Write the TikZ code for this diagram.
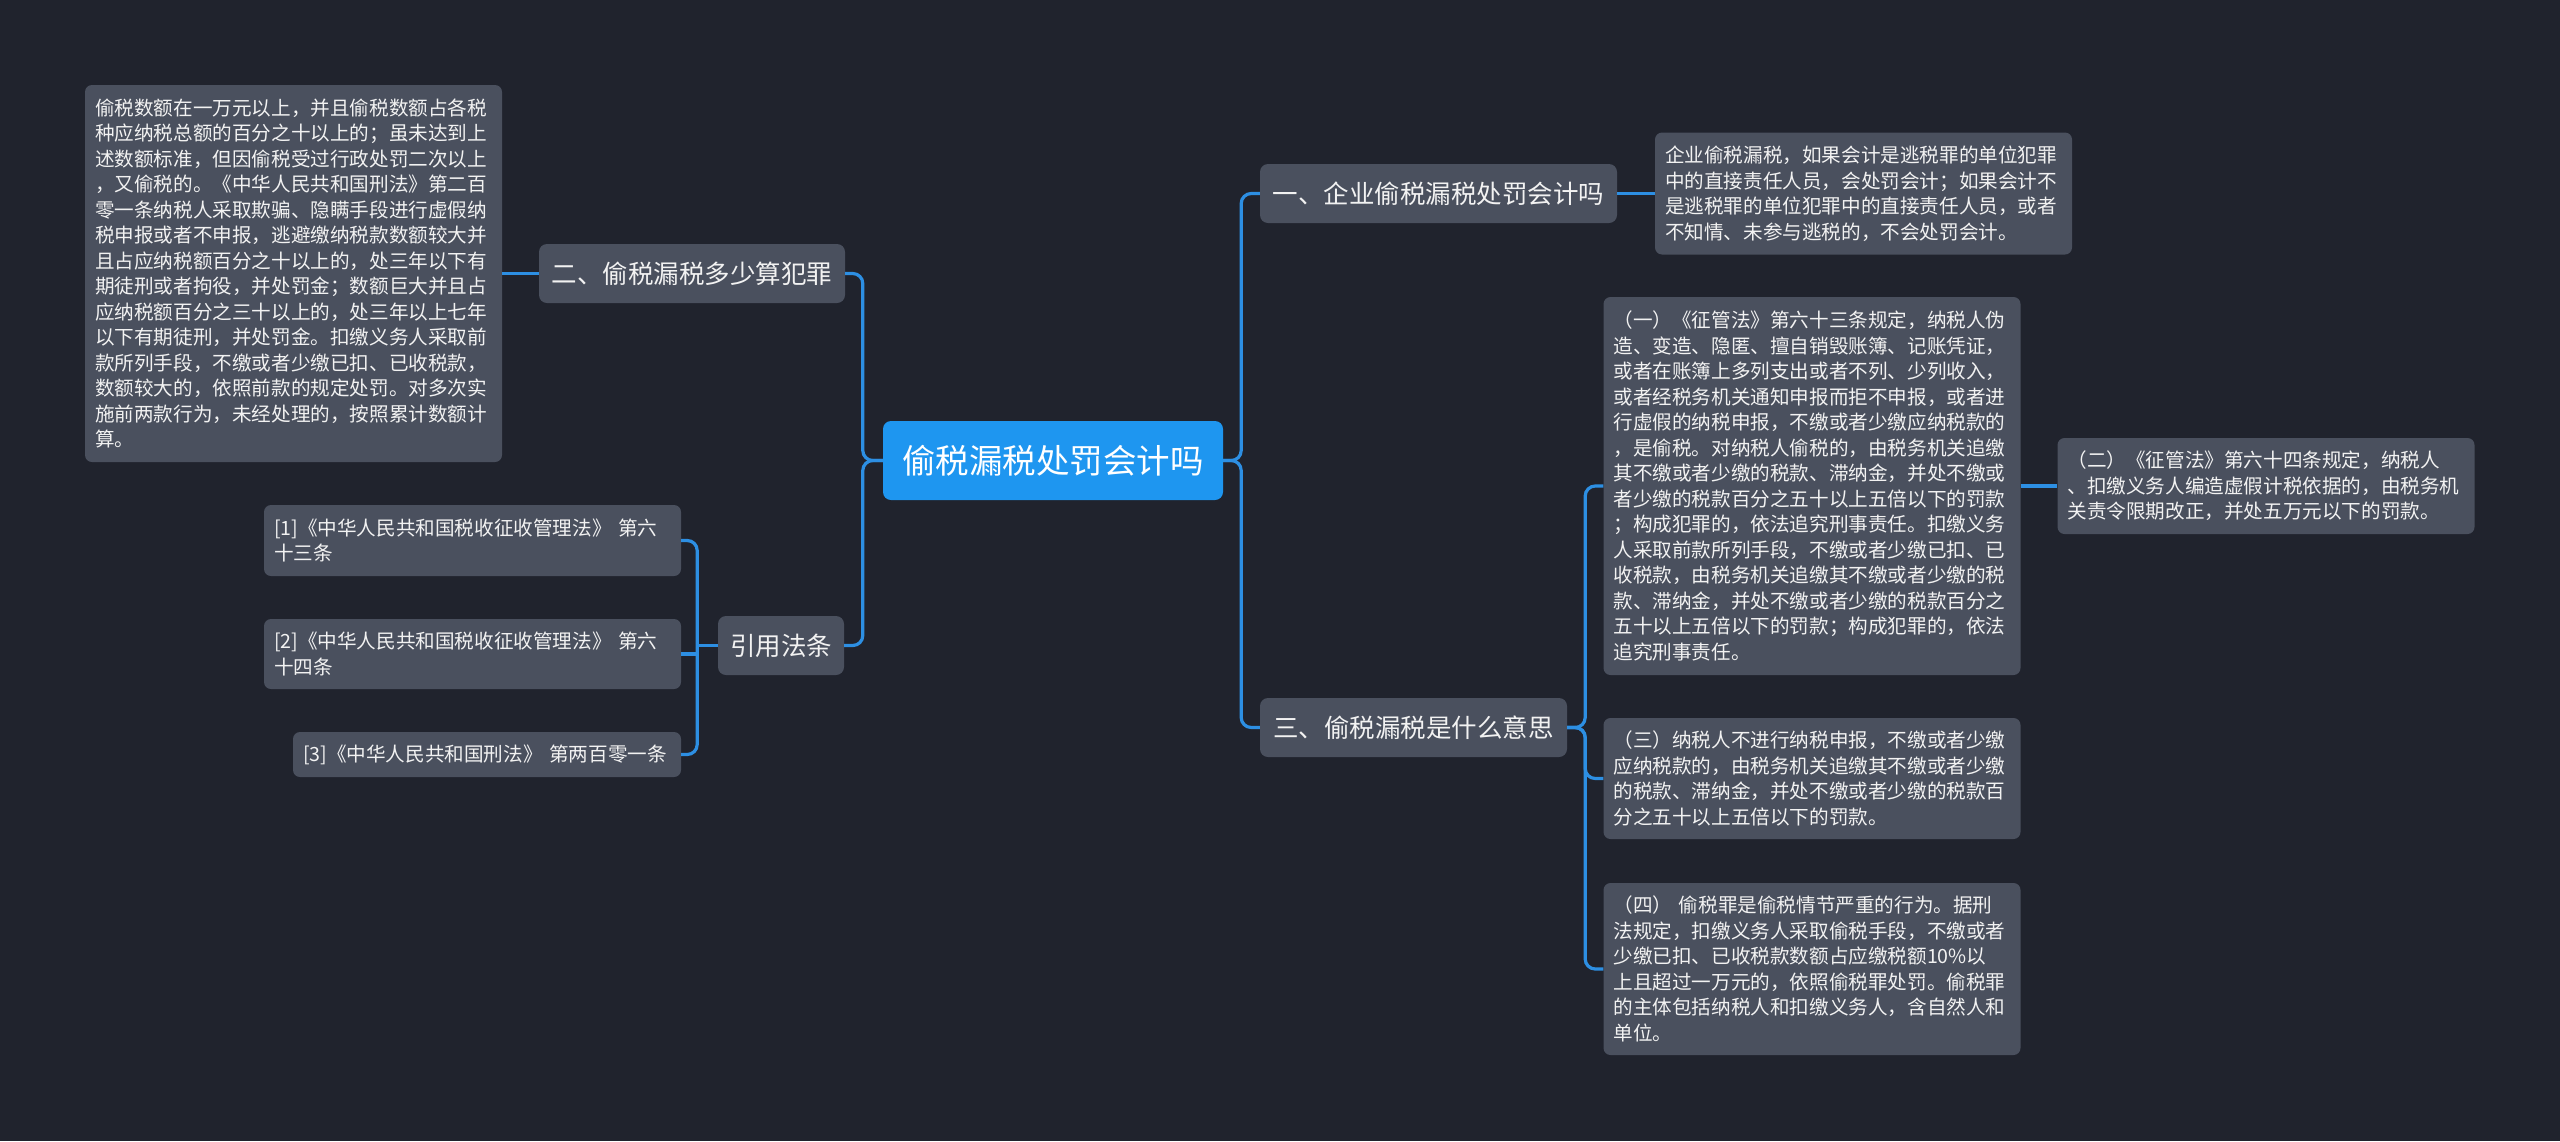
\documentclass[tikz,border=0pt]{standalone}
\usepackage{fontspec}
\newfontfamily\cjkfont{Noto Sans CJK SC}

\definecolor{bgcol}{HTML}{20232D}
\definecolor{boxcol}{HTML}{4A505E}
\definecolor{topiccol}{HTML}{1E96F0}
\definecolor{linecol}{HTML}{2D8FE3}
\definecolor{txtcol}{HTML}{F2F2F2}

\begin{document}
\begin{tikzpicture}[
    x=1pt, y=-1pt,
    topic/.style={
        fill=topiccol, rounded corners=8pt, text=white,
        minimum width=340pt, minimum height=79pt, inner sep=0pt,
        font=\cjkfont\fontsize{33.5}{40}\selectfont
    },
    branch/.style={
        fill=boxcol, rounded corners=8pt, text=txtcol,
        minimum height=59pt, inner xsep=12pt, inner ysep=0pt,
        font=\cjkfont\fontsize{25.5}{30}\selectfont
    },
    leaf/.style={
        fill=boxcol, rounded corners=7pt, text=txtcol, align=left,
        text width=397pt, inner xsep=10pt, inner ysep=6pt,
        font=\cjkfont\fontsize{19.6}{25.5}\selectfont
    },
    link/.style={draw=linecol, line width=3.2pt, rounded corners=10pt}
]
\fill[bgcol] (0,0) rectangle (2560,1141);
\useasboundingbox (0,0) rectangle (2560,1141);

% 1. Centre topic
\node[topic] (topic) at (1053,460.5) {偷税漏税处罚会计吗};

% 2. Branches
\node[branch, minimum width=357pt] (b1) at (1438.5,193.5) {一、企业偷税漏税处罚会计吗};
\node[branch, minimum width=306pt] (b2) at (692,273.5) {二、偷税漏税多少算犯罪};
\node[branch, minimum width=307pt] (b3) at (1413.5,727.5) {三、偷税漏税是什么意思};
\node[branch, minimum width=126pt] (cite) at (781,645.5) {引用法条};

% 3. Leaves, left side
\node[leaf, minimum height=377pt] (t2) at (293.5,273.5) {偷税数额在一万元以上，并且偷税数额占各税\\
种应纳税总额的百分之十以上的；虽未达到上\\
述数额标准，但因偷税受过行政处罚二次以上\\
，又偷税的。《中华人民共和国刑法》第二百\\
零一条纳税人采取欺骗、隐瞒手段进行虚假纳\\
税申报或者不申报，逃避缴纳税款数额较大并\\
且占应纳税额百分之十以上的，处三年以下有\\
期徒刑或者拘役，并处罚金；数额巨大并且占\\
应纳税额百分之三十以上的，处三年以上七年\\
以下有期徒刑，并处罚金。扣缴义务人采取前\\
款所列手段，不缴或者少缴已扣、已收税款，\\
数额较大的，依照前款的规定处罚。对多次实\\
施前两款行为，未经处理的，按照累计数额计\\
算。};
\node[leaf, minimum height=71pt] (r1) at (472.5,540.5) {[1]《中华人民共和国税收征收管理法》 第六\\
十三条};
\node[leaf, minimum height=70pt] (r2) at (472.5,654) {[2]《中华人民共和国税收征收管理法》 第六\\
十四条};
\node[leaf, text width=368pt, minimum height=45pt] (r3) at (487,754.5) {[3]《中华人民共和国刑法》 第两百零一条};

% 4. Leaves, right side
\node[leaf, minimum height=122pt] (t1) at (1863.5,193.5) {企业偷税漏税，如果会计是逃税罪的单位犯罪\\
中的直接责任人员，会处罚会计；如果会计不\\
是逃税罪的单位犯罪中的直接责任人员，或者\\
不知情、未参与逃税的，不会处罚会计。};
\node[leaf, minimum height=378pt] (d1) at (1812,486) {（一）《征管法》第六十三条规定，纳税人伪\\
造、变造、隐匿、擅自销毁账簿、记账凭证，\\
或者在账簿上多列支出或者不列、少列收入，\\
或者经税务机关通知申报而拒不申报，或者进\\
行虚假的纳税申报，不缴或者少缴应纳税款的\\
，是偷税。对纳税人偷税的，由税务机关追缴\\
其不缴或者少缴的税款、滞纳金，并处不缴或\\
者少缴的税款百分之五十以上五倍以下的罚款\\
；构成犯罪的，依法追究刑事责任。扣缴义务\\
人采取前款所列手段，不缴或者少缴已扣、已\\
收税款，由税务机关追缴其不缴或者少缴的税\\
款、滞纳金，并处不缴或者少缴的税款百分之\\
五十以上五倍以下的罚款；构成犯罪的，依法\\
追究刑事责任。};
\node[leaf, minimum height=96pt] (d2) at (2266,486) {（二）《征管法》第六十四条规定，纳税人\\
、扣缴义务人编造虚假计税依据的，由税务机\\
关责令限期改正，并处五万元以下的罚款。};
\node[leaf, minimum height=121pt] (d3) at (1812,778.5) {（三）纳税人不进行纳税申报，不缴或者少缴\\
应纳税款的，由税务机关追缴其不缴或者少缴\\
的税款、滞纳金，并处不缴或者少缴的税款百\\
分之五十以上五倍以下的罚款。};
\node[leaf, minimum height=172pt] (d4) at (1812,969) {（四） 偷税罪是偷税情节严重的行为。据刑\\
法规定，扣缴义务人采取偷税手段，不缴或者\\
少缴已扣、已收税款数额占应缴税额10\%以\\
上且超过一万元的，依照偷税罪处罚。偷税罪\\
的主体包括纳税人和扣缴义务人，含自然人和\\
单位。};

% Centre to branches
\draw[link] (topic.east) -- ++(18,0) |- (b1.west);
\draw[link] (topic.east) -- ++(18,0) |- (b3.west);
\draw[link] (topic.west) -- ++(-20,0) |- (b2.east);
\draw[link] (topic.west) -- ++(-20,0) |- (cite.east);

% Branches to leaves
\draw[link] (b1.east) -- (t1.west);
\draw[link] (b2.west) -- (t2.east);
\draw[link] (b3.east) -- ++(18,0) |- (d1.west);
\draw[link] (b3.east) -- ++(18,0) |- (d3.west);
\draw[link] (b3.east) -- ++(18,0) |- (d4.west);
\draw[link] (d1.east) -- (d2.west);

% Sources
\draw[link] (cite.west) -- ++(-21,0);
\draw[link] (r1.east) -- ++(16,0) |- (r3.east);
\draw[link] (r2.east) -- ++(16,0);

\end{tikzpicture}
\end{document}
